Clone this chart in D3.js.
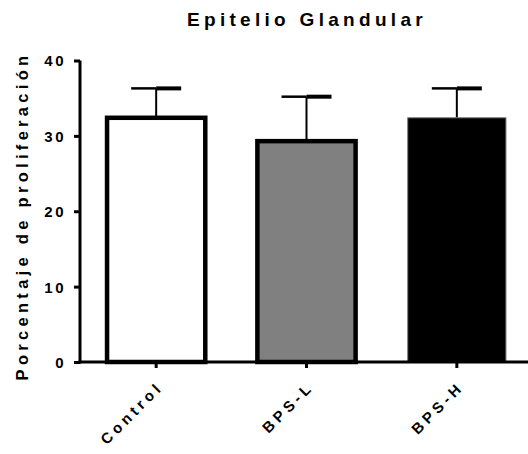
<!DOCTYPE html>
<html>
<head>
<meta charset="utf-8">
<script src="https://cdn.jsdelivr.net/npm/d3@7"></script>
<style>
  html, body { margin: 0; padding: 0; background: #fff; }
  text { font-family: "Liberation Sans", Arial, sans-serif; font-weight: bold; fill: #000; }
</style>
</head>
<body>
<svg id="chart" width="528" height="454"></svg>
<script>
// Proliferation percentage per group (mean and upper error)
const groups = ["Control", "BPS-L", "BPS-H"];
const means = [32.4, 29.3, 32.4];
const errors = [3.9, 5.9, 3.9];
const fills = ["#ffffff", "#808080", "#000000"];
const strokes = ["#000000", "#000000", "#777777"];
const yTicks = [0, 10, 20, 30, 40];

const svg = d3.select("#chart");

const x = d3.scaleBand().domain(groups).range([81, 532]).paddingInner(0.32).paddingOuter(0.16);
const y = d3.scaleLinear().domain([0, 40]).range([362, 60.5]);

// Title
svg.append("text")
  .attr("x", 307).attr("y", 26)
  .attr("text-anchor", "middle")
  .style("font-size", "19px")
  .style("letter-spacing", "4.3px")
  .text("Epitelio Glandular");

// Y axis title
svg.append("text")
  .attr("transform", "translate(28,216) rotate(-90)")
  .attr("text-anchor", "middle")
  .style("font-size", "16.5px")
  .style("letter-spacing", "4.3px")
  .text("Porcentaje de proliferación");

// Error bars (drawn first so the bar outline covers the stem base)
const eb = svg.append("g");
groups.forEach((g, i) => {
  const cx = x(g) + x.bandwidth() / 2;
  const top = y(means[i] + errors[i]);
  eb.append("line")
    .attr("x1", cx).attr("x2", cx)
    .attr("y1", y(means[i])).attr("y2", top)
    .attr("stroke", "#000").attr("stroke-width", 2);
  eb.append("line")
    .attr("x1", cx - 25).attr("x2", cx)
    .attr("y1", top).attr("y2", top)
    .attr("stroke", "#000").attr("stroke-width", 2.5);
  eb.append("line")
    .attr("x1", cx).attr("x2", cx + 25)
    .attr("y1", top).attr("y2", top)
    .attr("stroke", "#000").attr("stroke-width", 4);
});

// Bars
svg.append("g").selectAll("rect")
  .data(groups)
  .join("rect")
  .attr("x", (d) => x(d) + 2)
  .attr("width", x.bandwidth() - 4)
  .attr("y", (d, i) => y(means[i]))
  .attr("height", (d, i) => y(0) - y(means[i]))
  .attr("fill", (d, i) => fills[i])
  .attr("stroke", (d, i) => strokes[i])
  .attr("stroke-width", (d, i) => i === 2 ? 1 : 4.5);

// Y axis
const yAxis = svg.append("g")
  .attr("transform", "translate(80,0)")
  .call(d3.axisLeft(y).tickValues(yTicks).tickSize(6).tickPadding(8).tickSizeOuter(0));
yAxis.select(".domain").attr("stroke-width", 3).attr("d", `M0,${y(40)}V${y(0) + 1.5}`);
yAxis.selectAll(".tick line").attr("stroke-width", 3);
yAxis.selectAll(".tick text")
  .style("font-size", "15px")
  .style("letter-spacing", "2.5px")
  .attr("dy", "0.36em");

// X axis
const xAxis = svg.append("g")
  .attr("transform", `translate(0,${y(0)})`)
  .call(d3.axisBottom(x).tickSize(6).tickSizeOuter(0).tickPadding(6));
xAxis.select(".domain").attr("stroke-width", 3).attr("d", "M78.5,0H528");
xAxis.selectAll(".tick line").attr("stroke-width", 3);
xAxis.selectAll(".tick text")
  .style("font-size", "15px")
  .style("letter-spacing", "4px")
  .attr("text-anchor", "end")
  .attr("y", 0)
  .attr("dy", "0")
  .attr("transform", "translate(8,26) rotate(-45)");
</script>
</body>
</html>
